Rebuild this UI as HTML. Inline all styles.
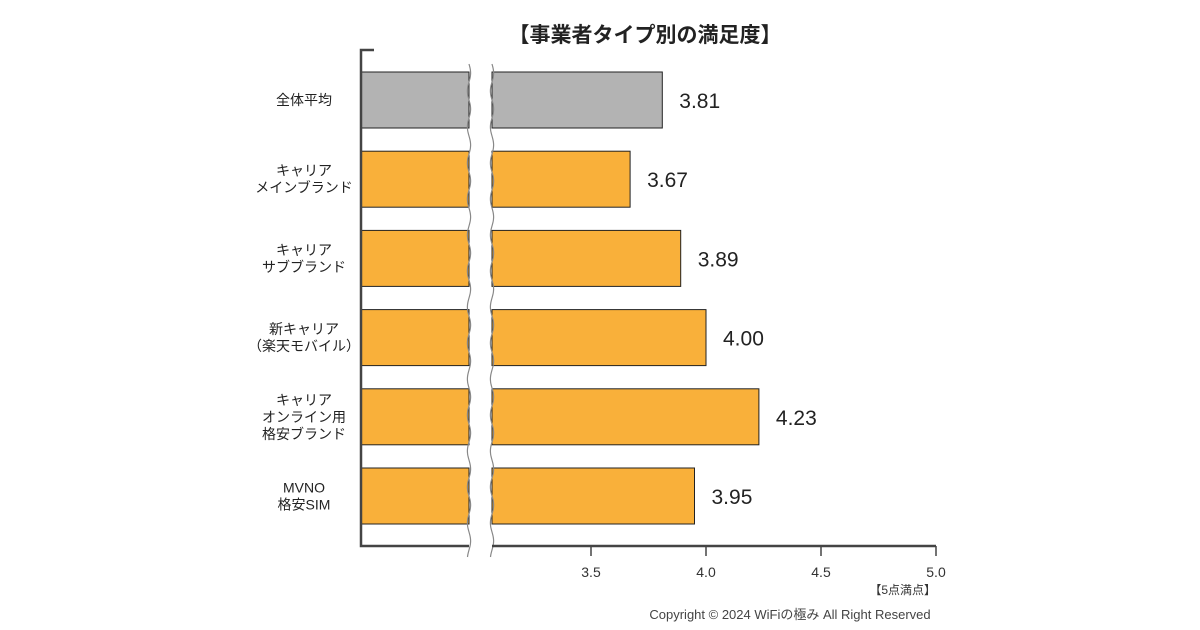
<!DOCTYPE html>
<html><head><meta charset="utf-8">
<style>
html,body{margin:0;padding:0;background:#fff;}
svg{display:block;font-family:"Liberation Sans","Noto Sans CJK JP",sans-serif;}
</style></head>
<body>
<svg id="chart" width="1200" height="630" viewBox="0 0 1200 630">
<text x="645" y="42" text-anchor="middle" font-size="21" font-weight="bold" fill="#222">【事業者タイプ別の満足度】</text>
<g id="bars"></g>
<g id="axes"></g>
<text x="936" y="594" text-anchor="end" font-size="12" fill="#333">【5点満点】</text>
<text x="790" y="619" text-anchor="middle" font-size="13" fill="#444">Copyright © 2024 WiFiの極み All Right Reserved</text>
</svg>
<script>
const categories = [["全体平均"],["キャリア","メインブランド"],["キャリア","サブブランド"],["新キャリア","（楽天モバイル）"],["キャリア","オンライン用","格安ブランド"],["MVNO","格安SIM"]];
const values = [3.81,3.67,3.89,4.00,4.23,3.95];
const ticks = [3.5,4.0,4.5,5.0];
const tickLabels = ["3.5","4.0","4.5","5.0"];
const NS="http://www.w3.org/2000/svg";
const xScale = v => 706 + (v-4)*230;
const yCenter = i => 100 + i*79.2;
const barH = 56, x0 = 361, brkL = 469, brkR = 492;
function mk(tag, attrs, parent){const e=document.createElementNS(NS,tag);for(const k in attrs)e.setAttribute(k,attrs[k]);parent.appendChild(e);return e;}
const gb=document.getElementById('bars'), ga=document.getElementById('axes');
values.forEach((v,i)=>{
  const yc=yCenter(i), y=yc-barH/2, fill=i===0?'#b3b3b3':'#f9b03a';
  const a=mk('rect',{x:x0,y:y,width:brkL-x0,height:barH,fill:fill,stroke:'#222','stroke-width':1},gb);
  
  
  const b=mk('rect',{x:brkR,y:y,width:xScale(v)-brkR,height:barH,fill:fill,stroke:'#222','stroke-width':1},gb);
  
  
  const t=mk('text',{x:xScale(v)+17,y:yc+8,'font-size':21,fill:'#222'},gb);
  t.textContent=v.toFixed(2);
  
  
  const lines=categories[i], lh=17, start=yc-(lines.length-1)*lh/2+5;
  lines.forEach((s,j)=>{
    const c=mk('text',{x:304,y:start+j*lh,'text-anchor':'middle','font-size':14,fill:'#222'},gb);
    c.textContent=s;
    
    
  });
});
function wave(x){let d='M'+x+' 64';for(let y=64;y<=557;y+=1){d+=' L'+(x+1.6*Math.sin((y-64)/36*2*Math.PI)).toFixed(2)+' '+y;}return d;}
const g2=mk('rect',{x:brkL+1,y:60,width:brkR-brkL-2,height:500,fill:'#fff'},ga);


[brkL,brkR].forEach((x,k)=>{
  const p=mk('path',{d:wave(x),fill:'none',stroke:'#888','stroke-width':1.2},ga);
  
  
});
const ya=mk('path',{d:'M374 50 H361 V546 H'+brkL,fill:'none',stroke:'#444','stroke-width':2.5},ga);


const xa=mk('line',{x1:brkR,y1:546,x2:936,y2:546,stroke:'#444','stroke-width':2.5},ga);


ticks.forEach((t,i)=>{
  const x=xScale(t);
  const l=mk('line',{x1:x,y1:546,x2:x,y2:556,stroke:'#444','stroke-width':1.5},ga);
  
  
  const tx=mk('text',{x:x,y:577,'text-anchor':'middle','font-size':14,fill:'#333'},ga);
  tx.textContent=tickLabels[i];
  
  
});
</script>
</body></html>
